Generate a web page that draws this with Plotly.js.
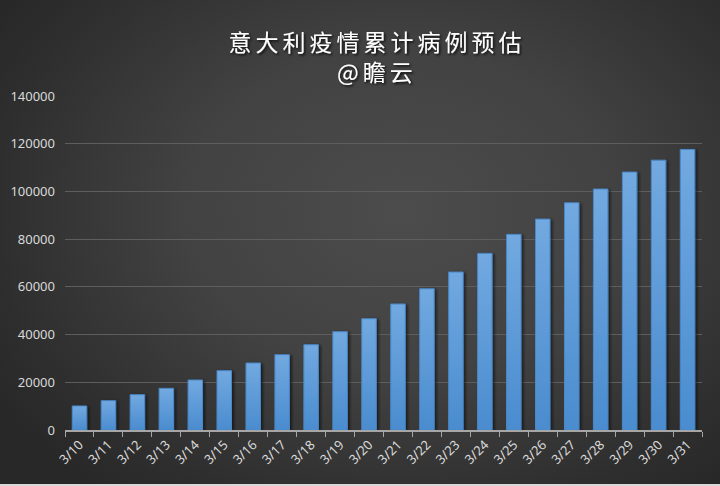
<!DOCTYPE html>
<html>
<head>
<meta charset="utf-8">
<script src="https://cdn.plot.ly/plotly-3.0.1.min.js"></script>
<style>
html,body{margin:0;padding:0;}
body{width:720px;height:486px;overflow:hidden;
background: radial-gradient(ellipse 480px 360px at 400px 210px, #4c4c4c 0%, #424242 45%, #2e2e2e 85%, #282828 100%);}
#chart{width:720px;height:484px;border-bottom:2px solid #d8d8d8;}
.gtitle{letter-spacing:4px;}
</style>
</head>
<body>
<div id="chart"></div>
<script>
var categories = ["3/10","3/11","3/12","3/13","3/14","3/15","3/16","3/17","3/18","3/19","3/20",
                  "3/21","3/22","3/23","3/24","3/25","3/26","3/27","3/28","3/29","3/30","3/31"];
var cases = [10060, 12280, 14800, 17460, 20950, 24860, 28070, 31560, 35750, 41200, 46650,
             52800, 59200, 66200, 74030, 82000, 88400, 95240, 101000, 108100, 113100, 117600];
var yTicks = [0, 20000, 40000, 60000, 80000, 100000, 120000, 140000];
var titleText = "意大利疫情累计病例预估<br>@瞻云";

var trace = {
  type: "bar",
  x: categories,
  y: cases,
  marker: {color: "#5b9bd8", line: {color: "#4a88c8", width: 1}},
  hoverinfo: "x+y"
};

var layout = {
  width: 720, height: 484,
  paper_bgcolor: "rgba(0,0,0,0)",
  plot_bgcolor: "rgba(0,0,0,0)",
  margin: {l: 65, r: 18, t: 96, b: 54},
  bargap: 0.5,
  showlegend: false,
  title: {
    text: titleText,
    x: 377/720, xanchor: "center",
    y: 1 - 51/484, yanchor: "middle",
    font: {family: "Noto Sans CJK SC, sans-serif", size: 23, color: "#ffffff"}
  },
  xaxis: {
    type: "category",
    tickangle: -45,
    tickson: "boundaries",
    ticks: "outside", ticklen: 5, tickcolor: "#a6a6a6", tickwidth: 1,
    showline: true, linecolor: "#a6a6a6", linewidth: 2,
    showgrid: false,
    tickfont: {family: "Noto Sans, DejaVu Sans, sans-serif", size: 13, color: "#d9d9d9"}
  },
  yaxis: {
    range: [0, 140000],
    tickvals: yTicks,
    ticktext: yTicks.map(String),
    showgrid: true, gridcolor: "#5e5e5e", gridwidth: 1,
    zeroline: false, showline: false,
    ticks: "", ticklen: 0,
    ticklabelstandoff: 9,
    tickfont: {family: "Noto Sans, DejaVu Sans, sans-serif", size: 13, color: "#d9d9d9"}
  }
};

Plotly.newPlot("chart", [trace], layout, {displayModeBar: false, staticPlot: true}).then(function(gd){
  var svg = gd.querySelector("svg.main-svg");
  var ns = "http://www.w3.org/2000/svg";
  var defs = svg.querySelector("defs") || svg.insertBefore(document.createElementNS(ns,"defs"), svg.firstChild);
  var g = document.createElementNS(ns, "linearGradient");
  g.setAttribute("id", "barGrad"); g.setAttribute("x1","0"); g.setAttribute("y1","0");
  g.setAttribute("x2","0"); g.setAttribute("y2","1");
  [["0%","#72a9e0"],["100%","#4a8ccf"]].forEach(function(s){
    var st = document.createElementNS(ns,"stop");
    st.setAttribute("offset", s[0]); st.setAttribute("stop-color", s[1]);
    g.appendChild(st);
  });
  defs.appendChild(g);
  var f = document.createElementNS(ns, "filter");
  f.setAttribute("id","barShadow"); f.setAttribute("x","-30%"); f.setAttribute("y","-10%");
  f.setAttribute("width","160%"); f.setAttribute("height","130%");
  f.innerHTML = '<feDropShadow dx="2" dy="1" stdDeviation="1.5" flood-color="#000" flood-opacity="0.55"/>';
  defs.appendChild(f);
  gd.querySelectorAll(".barlayer .point path").forEach(function(p){
    p.style.fill = "url(#barGrad)";
    p.setAttribute("filter","url(#barShadow)");
  });
  var t = gd.querySelector(".gtitle");
  if (t) {
    var fs = document.createElementNS(ns,"filter"); fs.setAttribute("id","txtShadow");
    fs.innerHTML = '<feDropShadow dx="1.5" dy="1.5" stdDeviation="1" flood-color="#000" flood-opacity="0.8"/>';
    defs.appendChild(fs);
    t.setAttribute("filter","url(#txtShadow)");
  }
});
</script>
</body>
</html>
